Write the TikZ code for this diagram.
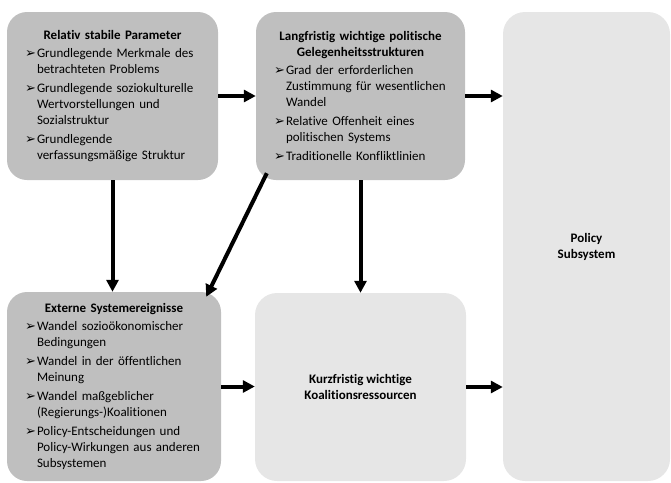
\documentclass[tikz,border=0pt]{standalone}
\usepackage{fontspec}
\setmainfont{Carlito}[Ligatures=NoCommon]
\newfontfamily\symfont{DejaVu Sans}
\usepackage{tikz}
\usetikzlibrary{arrows.meta, positioning}
\definecolor{boxdark}{RGB}{191, 191, 191}
\definecolor{boxlight}{RGB}{230, 230, 230}
\newcommand{\bulletsym}{{\symfont\fontsize{13}{13}\selectfont ➢}}
\newcommand{\boxhead}[1]{{\centering\bfseries #1\par}}
\newenvironment{factorlist}{\begin{list}{\bulletsym}{\setlength{\leftmargin}{12pt}\setlength{\labelwidth}{12pt}\setlength{\labelsep}{0pt}\setlength{\itemsep}{3pt}\setlength{\parsep}{0pt}\setlength{\topsep}{2pt}\setlength{\partopsep}{0pt}\def\makelabel##1{##1\hfil}}}{\end{list}}

\begin{document}
\begin{tikzpicture}[
    x=1pt, y=-1pt,
    factor/.style={rectangle, rounded corners=20pt, fill=boxdark, inner xsep=18pt, align=left, font=\fontsize{13}{16}\selectfont\setlength{\parskip}{0pt}},
    target/.style={rectangle, rounded corners=22pt, fill=boxlight, align=center, font=\fontsize{13}{16}\selectfont\bfseries},
    >={Triangle[length=12pt, width=12pt]}
  ]
  \useasboundingbox (0, 0) rectangle (671, 482);

  \node[factor, minimum width=211pt, minimum height=168pt, text width=175pt] (param) at (112.5, 96) {\boxhead{Relativ stabile Parameter}
    \begin{factorlist}
      \item Grundlegende Merkmale des\\betrachteten Problems
      \item Grundlegende soziokulturelle\\Wertvorstellungen und\\Sozialstruktur
      \item Grundlegende\\verfassungsmäßige Struktur
    \end{factorlist}};
  \node[factor, minimum width=209pt, minimum height=168pt, text width=173pt] (opp) at (360.5, 96) {\boxhead{Langfristig wichtige politische\\Gelegenheitsstrukturen}
    \begin{factorlist}
      \item Grad der erforderlichen\\Zustimmung für wesentlichen\\Wandel
      \item Relative Offenheit eines\\politischen Systems
      \item Traditionelle Konfliktlinien
    \end{factorlist}};
  \node[factor, minimum width=214pt, minimum height=189pt, text width=178pt] (ext) at (114, 386.5) {\boxhead{Externe Systemereignisse}
    \begin{factorlist}
      \item Wandel sozioökonomischer\\Bedingungen
      \item Wandel in der öffentlichen\\Meinung
      \item Wandel maßgeblicher\\(Regierungs-)Koalitionen
      \item Policy-Entscheidungen und\\Policy-Wirkungen aus anderen\\Subsystemen
    \end{factorlist}};
  \node[target, minimum width=211pt, minimum height=188pt] (res) at (360.5, 387) {Kurzfristig wichtige\\Koalitionsressourcen};
  \node[target, minimum width=167pt, minimum height=469pt] (pol) at (586.5, 246.5) {Policy\\Subsystem};

  \foreach \a/\b in {param/opp, opp/pol, ext/res, res/pol} {
    \draw[->, line width=4pt] (\a.east) -- (\a.east -| \b.west);
  }
  \foreach \a/\b in {param/ext, opp/res} {
    \draw[->, line width=4pt] (\a.south) -- (\a.south |- \b.north);
  }
  \draw[->, line width=4pt] ([shift={(11pt, 7pt)}]opp.south west) -- ([shift={(-15pt, -5pt)}]ext.north east);

\end{tikzpicture}
\end{document}
